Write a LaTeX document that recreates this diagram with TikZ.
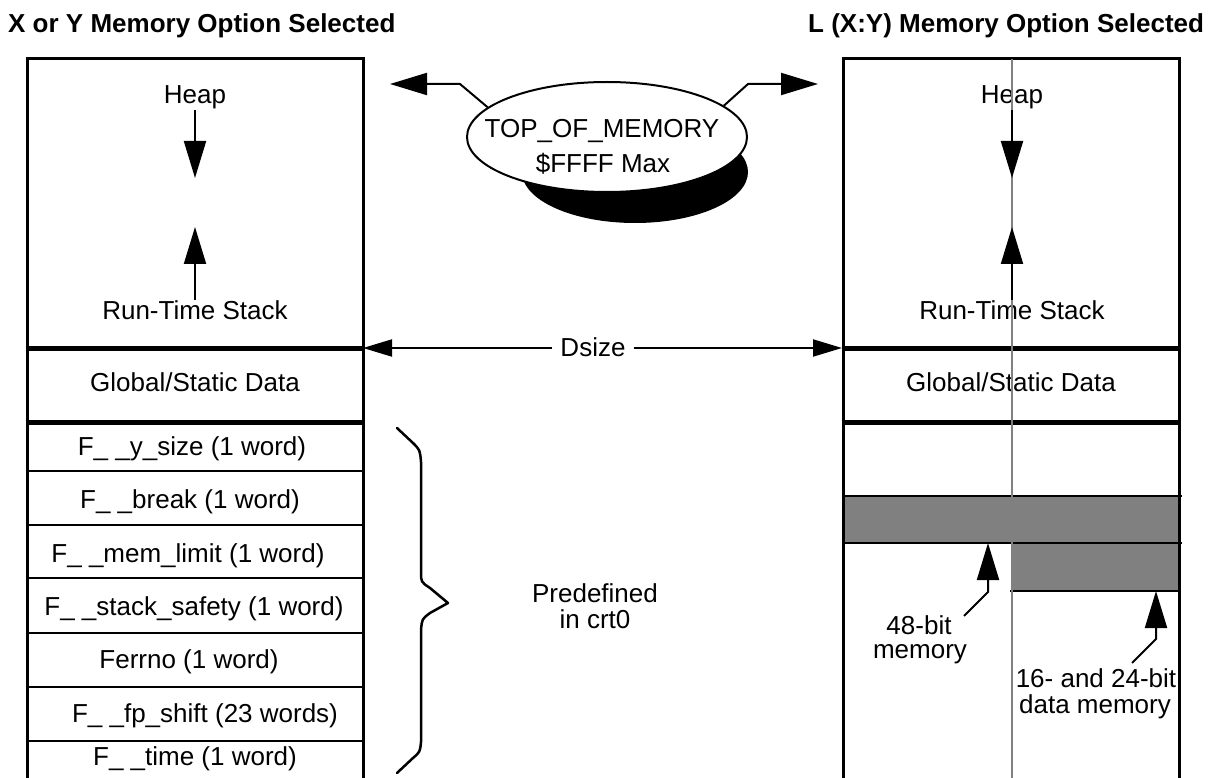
\documentclass[tikz,border=0pt]{standalone}
\usepackage{fontspec}
\setmainfont{Liberation Sans}
\usetikzlibrary{arrows.meta,shapes.geometric}
\definecolor{midgray}{RGB}{128,128,128}
\begin{document}
\begin{tikzpicture}[x=1pt,y=-1pt,
  every node/.style={inner sep=0pt,font=\fontsize{26}{26}\selectfont},
  lbl/.style={anchor=base},
  titlelbl/.style={anchor=base west,font=\fontsize{26}{26}\selectfont\bfseries},
  boxline/.style={line width=3pt},
  sepline/.style={line width=5pt},
  rowline/.style={line width=2pt},
  bigarrow/.style={line width=2pt,-{Triangle[length=37pt,width=22pt]}},
  dimtip/.style={line width=2pt,-{Triangle[length=29pt,width=17pt]}},
  grayline/.style={line width=2pt,draw=midgray},
]
\useasboundingbox (0,0) rectangle (1224,778);
\fill[white] (0,0) rectangle (1224,778);

% titles
\node[titlelbl] (tleft) at (8,33) {X or Y Memory Option Selected};
\node[titlelbl] (tright) at (808,33) {L (X:Y) Memory Option Selected};

% right box gray fills
\fill[midgray] (843,496) rectangle (1179,543);
\fill[midgray] (1012,543) rectangle (1179,591);

% boxes
\draw[boxline] (27,778) -- (27,59) -- (363,59) -- (363,778);
\draw[boxline] (843,778) -- (843,59) -- (1179,59) -- (1179,778);

% separators
\draw[sepline] (27,348) -- (363,348);
\draw[sepline] (27,422) -- (363,422);
\draw[sepline] (843,348) -- (1179,348);
\draw[sepline] (843,422) -- (1179,422);

% left rows
\foreach \yy in {471,525,578,633,687,741}
  \draw[rowline] (27,\yy) -- (363,\yy);

% right rows
\draw[rowline] (843,496) -- (1182,496);
\draw[rowline] (843,543) -- (1182,543);
\draw[rowline] (1010,591) -- (1179,591);

% left box texts
\node[lbl] (heapL) at (195,104) {Heap};
\node[lbl] (rtsL) at (195,319) {Run-Time Stack};
\node[lbl] (globL) at (195,391) {Global/Static Data};
\node[lbl] (r1) at (192,455) {F\_ \_y\_size (1 word)};
\node[lbl] (r2) at (190,508) {F\_ \_break (1 word)};
\node[lbl] (r3) at (188,562) {F\_ \_mem\_limit (1 word)};
\node[lbl] (r4) at (194,615) {F\_ \_stack\_safety (1 word)};
\node[lbl] (r5) at (189,668) {Ferrno (1 word)};
\node[lbl] (r6) at (205,722) {F\_ \_fp\_shift (23 words)};
\node[lbl] (r7) at (195,765) {F\_ \_time (1 word)};

% right box texts
\node[lbl] (heapR) at (1012,104) {Heap};
\node[lbl] (rtsR) at (1012,319) {Run-Time Stack};
\node[lbl] (globR) at (1011,391) {Global/Static Data};
\node[lbl] (m1) at (919,634) {48-bit};
\node[lbl] (m2) at (920,658) {memory};
\node[lbl] (d1) at (1096,687) {16- and 24-bit};
\node[lbl] (d2) at (1095,713) {data memory};

% gray centre line of right box
\draw[grayline] (1012,59) -- (1012,778);

% heap / stack arrows
\coordinate (lhtip) at (195,178);
\coordinate (lstip) at (195,227);
\coordinate (rhtip) at (1012,178);
\coordinate (rstip) at (1012,227);
\draw[bigarrow] (heapL.south) -- (lhtip);
\draw[bigarrow] (rtsL.north) -- (lstip);
\draw[bigarrow] (heapR.south) -- (rhtip);
\draw[bigarrow] (rtsR.north) -- (rstip);

% memory arrows
\coordinate (a48s) at (964,616);
\coordinate (a48b) at (988,592);
\coordinate (a48t) at (988,543);
\draw[bigarrow] (a48s) -- (a48b) -- (a48t);
\coordinate (a16s) at (1132,663);
\coordinate (a16b) at (1156,639);
\coordinate (a16t) at (1156,591);
\draw[bigarrow] (a16s) -- (a16b) -- (a16t);

% TOP_OF_MEMORY ellipse
\fill[black] (635,172) ellipse [x radius=113pt, y radius=51pt];
\node[ellipse,draw,line width=2pt,fill=white,minimum width=280pt,minimum height=110pt] (top) at (607,137) {};
\node[lbl] (top1) at (602,138) {TOP\_OF\_MEMORY};
\node[lbl] (top2) at (603,173) {\$FFFF Max};
\coordinate (tlb) at (460,84);
\coordinate (tltip) at (390,84);
\coordinate (trb) at (748,84);
\coordinate (trtip) at (818,84);
\draw[bigarrow] (top.166) -- (tlb) -- (tltip);
\draw[bigarrow] (top.15) -- (trb) -- (trtip);

% Dsize
\node[lbl,inner xsep=8pt] (dsize) at (593,356) {Dsize};
\coordinate (dl) at (363,348);
\coordinate (dr) at (842,348);
\draw[dimtip] (dsize.west |- dl) -- (dl);
\draw[dimtip] (dsize.east |- dr) -- (dr);

% brace
\draw[line width=2.5pt,line join=round,line cap=round]
  (397,428) -- (413,443) .. controls (420,450) .. (421,462) -- (421,572)
  .. controls (421,582) .. (430,588) -- (448,603) -- (430,613)
  .. controls (422,619) .. (421,630) -- (421,742)
  .. controls (420,752) .. (413,758) -- (397,773);
\node[lbl] (pre1) at (595,602) {Predefined};
\node[lbl] (pre2) at (595,628) {in crt0};
\end{tikzpicture}
\end{document}
